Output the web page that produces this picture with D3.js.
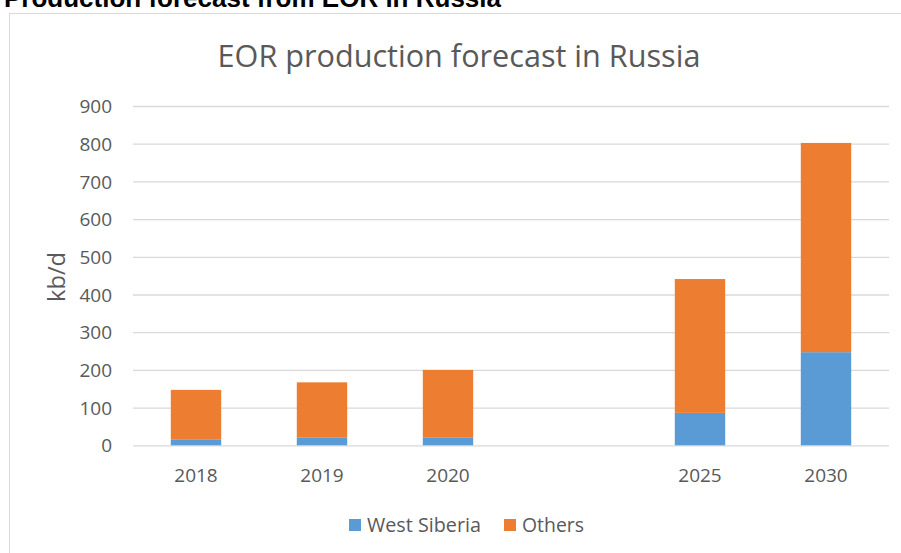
<!DOCTYPE html>
<html>
<head>
<meta charset="utf-8">
<script src="https://cdn.jsdelivr.net/npm/d3@7/dist/d3.min.js"></script>
<style>
html,body{margin:0;padding:0;background:#fff;}
svg{display:block;}
</style>
</head>
<body>
<svg id="chart" width="901" height="553"></svg>
<script>
// ---- data ----
const categories = ["2018", "2019", "2020", "", "2025", "2030"];
const westSiberia = [16, 20, 20, null, 86, 247];
const others = [131, 147, 180, null, 355, 555];
const seriesNames = ["West Siberia", "Others"];
const seriesColors = ["#5B9BD5", "#ED7D31"];
const yTicks = [0, 100, 200, 300, 400, 500, 600, 700, 800, 900];
const chartTitle = "EOR production forecast in Russia";
const pageTitle = "Production forecast from EOR in Russia";
const yLabel = "kb/d";

const svg = d3.select("#chart");
const FONT = "'Open Sans', sans-serif";
const TXT = "#595959";

// outer border of chart area
svg.append("rect").attr("x", 9.5).attr("y", 13.5).attr("width", 950).attr("height", 600)
  .attr("fill", "#fff").attr("stroke", "#D9D9D9").attr("stroke-width", 1);

// page heading (clipped at top)
svg.append("text").attr("x", 501).attr("y", 6.5).attr("text-anchor", "end")
  .attr("font-family", "'Liberation Sans', Arial, sans-serif").attr("font-weight", "bold")
  .attr("font-size", 26).attr("fill", "#000").text(pageTitle);

const x = d3.scaleBand().domain(d3.range(categories.length)).range([133, 889])
  .paddingInner(0.6).paddingOuter(0.3);
const y = d3.scaleLinear().domain([0, 900]).range([445.3, 106]);

function fit(sel, target) {
  const w = sel.node().getComputedTextLength();
  const fs = parseFloat(sel.attr("font-size"));
  sel.attr("font-size", fs * target / w);
}

// gridlines
const yAxis = d3.axisLeft(y).tickValues(yTicks).tickSize(-(889 - 133)).tickPadding(21);
const gY = svg.append("g").attr("transform", "translate(133,0)").call(yAxis);
gY.select(".domain").remove();
gY.selectAll(".tick line").attr("stroke", "#D9D9D9").attr("stroke-width", 1.3);
gY.selectAll(".tick text").attr("font-family", FONT).attr("font-size", 19).attr("fill", TXT)
  .attr("dy", "0.35em");

// stacked bars
const data = categories.map((c, i) => ({i, ws: westSiberia[i], ot: others[i]})).filter(d => d.ws !== null);
const stack = d3.stack().keys(["ws", "ot"])(data);
stack.forEach((layer, k) => {
  svg.append("g").selectAll("rect").data(layer).enter().append("rect")
    .attr("x", d => x(d.data.i))
    .attr("width", x.bandwidth())
    .attr("y", d => y(d[1]))
    .attr("height", d => y(d[0]) - y(d[1]))
    .attr("fill", seriesColors[k]);
});

// x axis labels
const xAxis = d3.axisBottom(x).tickFormat(i => categories[i]).tickSize(0).tickPadding(0);
const gX = svg.append("g").call(xAxis);
gX.select(".domain").remove();
gX.selectAll(".tick text").attr("font-family", FONT).attr("font-size", 19).attr("fill", TXT)
  .attr("y", 482).attr("dy", 0);

// chart title
const t = svg.append("text").attr("x", 459).attr("y", 67).attr("text-anchor", "middle")
  .attr("font-family", FONT).attr("font-size", 28).attr("fill", TXT).text(chartTitle);
fit(t, 483);

// y label
const yl = svg.append("text").attr("transform", "translate(65,277) rotate(-90)").attr("text-anchor", "middle")
  .attr("font-family", FONT).attr("font-size", 21).attr("fill", TXT).text(yLabel);
fit(yl, 50);

// legend
const legX = [349, 504];
const legW = [114, 62];
seriesNames.forEach((n, k) => {
  svg.append("rect").attr("x", legX[k]).attr("y", 519).attr("width", 12).attr("height", 12)
    .attr("fill", seriesColors[k]);
  const lt = svg.append("text").attr("x", legX[k] + 18).attr("y", 532)
    .attr("font-family", FONT).attr("font-size", 19).attr("fill", TXT).text(n);
  fit(lt, legW[k]);
});
</script>
</body>
</html>
